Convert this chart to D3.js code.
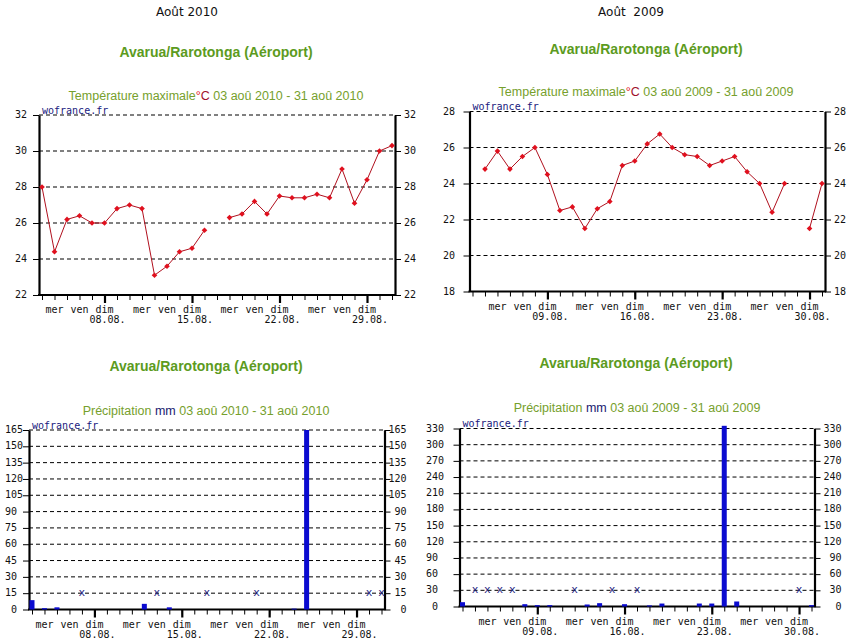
<!DOCTYPE html>
<html>
<head>
<meta charset="utf-8">
<script src="https://cdn.jsdelivr.net/npm/d3@7"></script>
<style>
  body { margin: 0; background: #fff; }
  svg { display: block; }
</style>
</head>
<body>
<div id="chart"></div>
<script>
// day of month, 03.08 -> 31.08
const days = [3, 4, 5, 6, 7, 8, 9, 10, 11, 12, 13, 14, 15, 16, 17, 18, 19, 20, 21, 22, 23, 24, 25, 26, 27, 28, 29, 30, 31];

// max temperature (°C), null = no data
const temp2010 = [28.0, 24.4, 26.2, 26.4, 26.0, 26.0, 26.8, 27.0, 26.8, 23.1, 23.6, 24.4, 24.6, 25.6, null,
  26.3, 26.5, 27.2, 26.5, 27.5, 27.4, 27.4, 27.6, 27.4, 29.0, 27.1, 28.4, 30.0, 30.3];
const temp2009 = [null, 24.8, 25.8, 24.8, 25.5, 26.0, 24.5, 22.5, 22.7, 21.5, 22.6, 23.0, 25.0, 25.25, 26.2,
  26.75, 26.0, 25.6, 25.5, 25.0, 25.25, 25.5, 24.65, 24.0, 22.4, 24.0, null, 21.5, 24.0];

// precipitation (mm), null = no data (drawn as x)
const rain2010 = [8.6, 1.2, 2.0, 0, null, 0, 0, 0, 0, 5.2, null, 2.0, 0, 0, null,
  0, 0, 0, null, 0, 0, 0.8, 165, 0, 0, 0, 0, null, null];
const rain2009 = [8.0, null, null, null, null, 4.3, 2.5, 2.5, 0, null, 3.7, 6.2, null, 4.3, null,
  2.0, 5.5, 0, 0, 5.5, 5.5, 335, 9.3, 0, 0, 0, 0, null, 2.5];

const tempTicks2010 = [22, 24, 26, 28, 30, 32];
const tempTicks2009 = [18, 20, 22, 24, 26, 28];
const rainTicks2010 = [0, 15, 30, 45, 60, 75, 90, 105, 120, 135, 150, 165];
const rainTicks2009 = [0, 30, 60, 90, 120, 150, 180, 210, 240, 270, 300, 330];

const weekLabels2010 = [[4, 'mer'], [6, 'ven'], [8, 'dim'], [11, 'mer'], [13, 'ven'], [15, 'dim'],
  [18, 'mer'], [20, 'ven'], [22, 'dim'], [25, 'mer'], [27, 'ven'], [29, 'dim']];
const dateLabels2010 = [[8, '08.08.'], [15, '15.08.'], [22, '22.08.'], [29, '29.08.']];
const weekLabels2009 = [[5, 'mer'], [7, 'ven'], [9, 'dim'], [12, 'mer'], [14, 'ven'], [16, 'dim'],
  [19, 'mer'], [21, 'ven'], [23, 'dim'], [26, 'mer'], [28, 'ven'], [30, 'dim']];
const dateLabels2009 = [[9, '09.08.'], [16, '16.08.'], [23, '23.08.'], [30, '30.08.']];

const GREEN = '#5c9b1e';
const SUB_GREEN = '#76a02c';
const MONO = '"DejaVu Sans Mono", "Liberation Mono", monospace';

const svg = d3.select('#chart').append('svg')
  .attr('width', 851)
  .attr('height', 644);

// page headers
svg.append('text').attr('x', 187).attr('y', 16).attr('text-anchor', 'middle')
  .style('font', '12px "DejaVu Sans", sans-serif').attr('fill', '#111').text('Août 2010');
svg.append('text').attr('x', 631).attr('y', 16).attr('text-anchor', 'middle')
  .style('font', '12px "DejaVu Sans", sans-serif').style('white-space', 'pre').attr('fill', '#111').text('Août  2009');

function heading(cx, cy) {
  svg.append('text').attr('x', cx).attr('y', cy).attr('text-anchor', 'middle')
    .attr('dominant-baseline', 'middle')
    .style('font', 'bold 14px "Liberation Sans", Arial, sans-serif')
    .attr('fill', GREEN).text('Avarua/Rarotonga (Aéroport)');
}
heading(216, 53);
heading(646, 50);
heading(206, 367);
heading(636, 364);

function subtitle(cx, cy, parts) {
  const t = svg.append('text').attr('x', cx).attr('y', cy).attr('text-anchor', 'middle')
    .attr('dominant-baseline', 'middle')
    .style('font', '12.5px "Liberation Sans", Arial, sans-serif');
  parts.forEach(p => t.append('tspan').attr('fill', p[1]).text(p[0]));
}
subtitle(216, 97, [['Température maximale', SUB_GREEN], ['°', '#e0101a'], ['C', '#a0102a'], [' 03 aoû 2010 - 31 aoû 2010', SUB_GREEN]]);
subtitle(646, 93, [['Température maximale', SUB_GREEN], ['°', '#e0101a'], ['C', '#a0102a'], [' 03 aoû 2009 - 31 aoû 2009', SUB_GREEN]]);
subtitle(206, 412, [['Précipitation ', SUB_GREEN], ['mm', '#1a1a70'], [' 03 aoû 2010 - 31 aoû 2010', SUB_GREEN]]);
subtitle(637, 409, [['Précipitation ', SUB_GREEN], ['mm', '#1a1a70'], [' 03 aoû 2009 - 31 aoû 2009', SUB_GREEN]]);

const marker = d3.symbol(d3.symbolDiamond2 || d3.symbolSquare, 20);

function drawChart(cfg) {
  const g = svg.append('g');
  const x = d3.scaleLinear()
    .domain([days[0], days[days.length - 1]])
    .range([cfg.left + 3, cfg.right - 3]);
  const y = d3.scaleLinear()
    .domain([cfg.ticks[0], cfg.ticks[cfg.ticks.length - 1]])
    .range([cfg.bottom, cfg.top]);

  // dashed grid
  g.selectAll('line.grid').data(cfg.ticks.slice(1)).join('line')
    .attr('class', 'grid')
    .attr('x1', cfg.left).attr('x2', cfg.right)
    .attr('y1', d => y(d)).attr('y2', d => y(d))
    .attr('stroke', '#000').attr('stroke-dasharray', '4,3');

  // y axes (tick marks only, labels below)
  const yl = g.append('g').attr('transform', `translate(${cfg.left},0)`)
    .call(d3.axisLeft(y).tickValues(cfg.ticks).tickSize(6).tickSizeOuter(0).tickFormat(''));
  const yr = g.append('g').attr('transform', `translate(${cfg.right},0)`)
    .call(d3.axisRight(y).tickValues(cfg.ticks).tickSize(6).tickSizeOuter(0).tickFormat(''));
  [yl, yr].forEach(a => {
    a.select('.domain').attr('stroke-width', 2.2);
    a.selectAll('.tick line').attr('stroke-width', 1);
  });

  g.selectAll('text.yl').data(cfg.ticks).join('text')
    .attr('class', 'yl')
    .attr('x', cfg.leftLabelX).attr('y', d => y(d))
    .attr('dominant-baseline', 'middle')
    .style('font', '10px ' + MONO).style('white-space', 'pre')
    .attr('fill', '#111')
    .text(d => String(d).padStart(2, ' '));
  g.selectAll('text.yr').data(cfg.ticks).join('text')
    .attr('class', 'yr')
    .attr('x', cfg.right + cfg.rightLabelEnd).attr('y', d => y(d))
    .attr('text-anchor', 'end')
    .attr('dominant-baseline', 'middle')
    .style('font', '10px ' + MONO)
    .attr('fill', '#111')
    .text(d => d);

  // x axis: baseline, day ticks, sunday ticks
  g.append('line')
    .attr('x1', cfg.left - 1).attr('x2', cfg.right + 1)
    .attr('y1', cfg.bottom).attr('y2', cfg.bottom)
    .attr('stroke', '#000').attr('stroke-width', 2.2);
  const xa = g.append('g').attr('transform', `translate(0,${cfg.bottom})`)
    .call(d3.axisBottom(x).tickValues(days).tickSize(5).tickSizeOuter(0).tickFormat(''));
  xa.select('.domain').remove();
  const xm = g.append('g').attr('transform', `translate(0,${cfg.bottom})`)
    .call(d3.axisBottom(x).tickValues(cfg.dates.map(d => d[0])).tickSize(8).tickSizeOuter(0).tickFormat(''));
  xm.select('.domain').remove();
  xm.selectAll('.tick line').attr('stroke-width', 2.2);

  g.selectAll('text.wk').data(cfg.week).join('text')
    .attr('class', 'wk')
    .attr('x', d => x(d[0])).attr('y', cfg.bottom + 15)
    .attr('text-anchor', 'middle').attr('dominant-baseline', 'middle')
    .style('font', '10px ' + MONO).attr('fill', '#111')
    .text(d => d[1]);
  g.selectAll('text.dt').data(cfg.dates).join('text')
    .attr('class', 'dt')
    .attr('x', d => x(d[0]) + 3).attr('y', cfg.bottom + 25)
    .attr('text-anchor', 'middle').attr('dominant-baseline', 'middle')
    .style('font', '10px ' + MONO).attr('fill', '#111')
    .text(d => d[1]);

  g.append('text')
    .attr('x', cfg.left + 3).attr('y', cfg.top - 1.5)
    .style('font', '10px ' + MONO).attr('fill', '#1a1a80')
    .text('wofrance.fr');

  const pts = days.map((d, i) => ({ day: d, v: cfg.values[i] }));

  if (cfg.type === 'line') {
    const line = d3.line()
      .defined(d => d.v !== null)
      .x(d => x(d.day)).y(d => y(d.v));
    g.append('path').datum(pts)
      .attr('d', line)
      .attr('fill', 'none').attr('stroke', '#b0101e').attr('stroke-width', 1);
    g.selectAll('path.pt').data(pts.filter(d => d.v !== null)).join('path')
      .attr('class', 'pt')
      .attr('transform', d => `translate(${x(d.day)},${y(d.v)})` + (d3.symbolDiamond2 ? '' : ' rotate(45)'))
      .attr('d', marker)
      .attr('fill', '#e0101e');
  } else {
    g.selectAll('rect.bar').data(pts.filter(d => d.v !== null && d.v > 0)).join('rect')
      .attr('class', 'bar')
      .attr('x', d => x(d.day) - 2.5).attr('width', 5)
      .attr('y', d => y(d.v)).attr('height', d => cfg.bottom - y(d.v))
      .attr('fill', '#0b0bd0');
    g.selectAll('text.miss').data(pts.filter(d => d.v === null)).join('text')
      .attr('class', 'miss')
      .attr('x', d => x(d.day)).attr('y', y(cfg.ticks[1]))
      .attr('text-anchor', 'middle').attr('dominant-baseline', 'middle')
      .style('font', '11px ' + MONO).attr('fill', '#1a1a80')
      .text('x');
  }
}

drawChart({ type: 'line', values: temp2010, ticks: tempTicks2010, week: weekLabels2010, dates: dateLabels2010,
  left: 39, right: 395, top: 115, bottom: 295, leftLabelX: 15, rightLabelEnd: 21 });
drawChart({ type: 'line', values: temp2009, ticks: tempTicks2009, week: weekLabels2009, dates: dateLabels2009,
  left: 469.5, right: 825, top: 111.5, bottom: 291.5, leftLabelX: 443, rightLabelEnd: 21 });
drawChart({ type: 'bar', values: rain2010, ticks: rainTicks2010, week: weekLabels2010, dates: dateLabels2010,
  left: 29, right: 384.5, top: 430, bottom: 609.5, leftLabelX: 5, rightLabelEnd: 22 });
drawChart({ type: 'bar', values: rain2009, ticks: rainTicks2009, week: weekLabels2009, dates: dateLabels2009,
  left: 459.5, right: 814.5, top: 428.5, bottom: 606.5, leftLabelX: 426, rightLabelEnd: 27 });
</script>
</body>
</html>
